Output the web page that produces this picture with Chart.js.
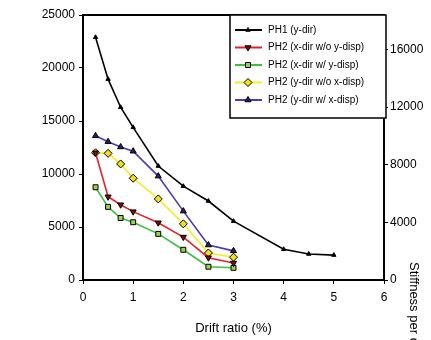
<!DOCTYPE html>
<html>
<head>
<meta charset="utf-8">
<script src="https://cdn.jsdelivr.net/npm/chart.js@4/dist/chart.umd.min.js"></script>
<style>
  html, body { margin: 0; padding: 0; background: #fff; }
  #wrap { width: 431px; height: 340px; }
</style>
</head>
<body>
<div id="wrap"><canvas id="driftChart" width="431" height="340"></canvas></div>
<script>
// drift ratio (%) for each series
const ph1Drift = [0.25, 0.5, 0.75, 1, 1.5, 2, 2.5, 3, 4, 4.5, 5];
const ph2Drift = [0.25, 0.5, 0.75, 1, 1.5, 2, 2.5, 3];

// values (left axis)
const ph1Y = [22900, 18950, 16300, 14400, 10750, 8850, 7450, 5550, 2900, 2450, 2350];
const ph2XnoY = [12000, 7850, 7100, 6450, 5400, 4050, 2100, 1600];
const ph2XwithY = [8750, 6900, 5850, 5450, 4350, 2850, 1250, 1150];
const ph2YnoX = [12000, 11950, 10950, 9600, 7650, 5300, 2550, 2150];
const ph2YwithX = [13600, 13050, 12550, 12150, 9800, 6500, 3300, 2750];

const seriesLabels = [
  'PH1 (y-dir)',
  'PH2 (x-dir w/o y-disp)',
  'PH2 (x-dir w/ y-disp)',
  'PH2 (y-dir w/o x-disp)',
  'PH2 (y-dir w/ x-disp)'
];
const xTicks = [0, 1, 2, 3, 4, 5, 6];
const leftTicks = [0, 5000, 10000, 15000, 20000, 25000];
const rightTicks = [0, 4000, 8000, 12000, 16000];

const FONT = '"Liberation Sans", Arial, sans-serif';

const pts = (xs, ys) => xs.map((x, i) => ({ x: x, y: ys[i] }));
const plain = v => String(v);

// frame top line, legend box, right title
const extras = {
  id: 'extras',
  afterDraw(chart) {
    const ctx = chart.ctx;
    const a = chart.chartArea;
    ctx.save();
    ctx.strokeStyle = '#000';
    ctx.lineWidth = 2;
    ctx.beginPath();
    ctx.moveTo(a.left, a.top);
    ctx.lineTo(a.right, a.top);
    ctx.stroke();

    // legend
    const bx = 230, by = a.top, bw = 156, bh = 103;
    ctx.fillStyle = '#fff';
    ctx.fillRect(bx, by, bw, bh);
    ctx.lineWidth = 1.5;
    ctx.strokeRect(bx, by, bw, bh);
    ctx.font = '10px ' + FONT;
    ctx.textBaseline = 'middle';
    chart.data.datasets.forEach((ds, i) => {
      const yy = by + 15 + i * 17.5;
      ctx.strokeStyle = ds.borderColor;
      ctx.lineWidth = 2;
      ctx.beginPath();
      ctx.moveTo(bx + 5, yy);
      ctx.lineTo(bx + 32, yy);
      ctx.stroke();
      ctx.fillStyle = ds.pointBackgroundColor;
      ctx.strokeStyle = ds.pointBorderColor;
      ctx.lineWidth = 1;
      Chart.helpers.drawPoint(ctx, {
        pointStyle: ds.pointStyle,
        rotation: ds.rotation || 0,
        radius: ds.pointRadius,
        borderWidth: 1
      }, bx + 18, yy);
      ctx.fillStyle = '#000';
      ctx.fillText(ds.label, bx + 38, yy);
    });

    // right axis title, cut off by the edge
    ctx.translate(414, 262);
    ctx.rotate(Math.PI / 2);
    ctx.font = '13px ' + FONT;
    ctx.fillStyle = '#000';
    ctx.textBaseline = 'middle';
    ctx.fillText('Stiffness per drift', 0, 0);
    ctx.restore();
  }
};

new Chart(document.getElementById('driftChart'), {
  type: 'line',
  data: {
    datasets: [
      { label: seriesLabels[0], data: pts(ph1Drift, ph1Y), borderColor: '#000', backgroundColor: '#000',
        pointBackgroundColor: '#000', pointBorderColor: '#000', pointStyle: 'triangle', pointRadius: 2.5 },
      { label: seriesLabels[1], data: pts(ph2Drift, ph2XnoY), borderColor: '#e8202a', backgroundColor: '#e8202a',
        pointBackgroundColor: '#7a1010', pointBorderColor: '#000', pointStyle: 'triangle', rotation: 180, pointRadius: 3.5 },
      { label: seriesLabels[2], data: pts(ph2Drift, ph2XwithY), borderColor: '#3cc040', backgroundColor: '#3cc040',
        pointBackgroundColor: '#9fd050', pointBorderColor: '#000', pointStyle: 'rect', pointRadius: 3.5 },
      { label: seriesLabels[3], data: pts(ph2Drift, ph2YnoX), borderColor: '#f0f020', backgroundColor: '#f0f020',
        pointBackgroundColor: '#f0e020', pointBorderColor: '#000', pointStyle: 'rectRot', pointRadius: 4 },
      { label: seriesLabels[4], data: pts(ph2Drift, ph2YwithX), borderColor: '#4a3cb0', backgroundColor: '#4a3cb0',
        pointBackgroundColor: '#2a2060', pointBorderColor: '#000', pointStyle: 'triangle', pointRadius: 3.5 }
    ]
  },
  options: {
    responsive: false,
    animation: false,
    elements: { line: { borderWidth: 1.6, tension: 0 }, point: { borderWidth: 1 } },
    layout: { padding: { top: 15, left: 0, right: 0, bottom: 0 } },
    plugins: { legend: { display: false }, tooltip: { enabled: false } },
    scales: {
      x: {
        type: 'linear', min: 0, max: 6,
        afterBuildTicks: s => { s.ticks = xTicks.map(v => ({ value: v })); },
        afterFit: s => { s.height = 60; },
        grid: { drawOnChartArea: false, tickLength: 4, color: '#000' },
        border: { color: '#000', width: 2 },
        ticks: { color: '#000', font: { family: FONT, size: 12 }, padding: 6, callback: plain },
        title: { display: true, text: 'Drift ratio (%)', color: '#000', font: { family: FONT, size: 13 }, padding: { top: 6 } }
      },
      y: {
        position: 'left', min: 0, max: 25000,
        afterBuildTicks: s => { s.ticks = leftTicks.map(v => ({ value: v })); },
        afterFit: s => { s.width = 83; },
        grid: { drawOnChartArea: false, tickLength: 4, color: '#000' },
        border: { color: '#000', width: 2 },
        ticks: { color: '#000', font: { family: FONT, size: 12 }, padding: 4, callback: plain }
      },
      y2: {
        position: 'right', min: 0, max: 18400,
        afterBuildTicks: s => { s.ticks = rightTicks.map(v => ({ value: v })); },
        afterFit: s => { s.width = 47; },
        grid: { drawOnChartArea: false, tickLength: 4, color: '#000' },
        border: { color: '#000', width: 2 },
        ticks: { color: '#000', font: { family: FONT, size: 12 }, padding: 2, callback: plain }
      }
    }
  },
  plugins: [extras]
});
</script>
</body>
</html>
